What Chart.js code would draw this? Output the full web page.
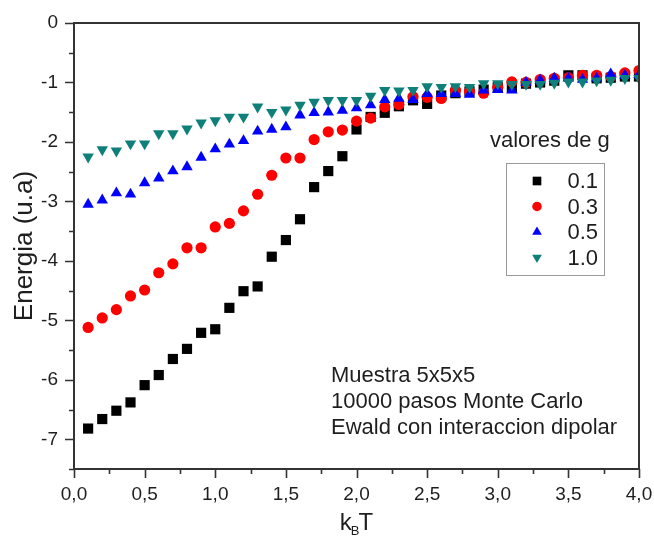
<!DOCTYPE html>
<html>
<head>
<meta charset="utf-8">
<script src="https://cdn.jsdelivr.net/npm/chart.js@4.4.1/dist/chart.umd.min.js"></script>
<style>
html,body{margin:0;padding:0;background:#fff;}
canvas{display:block;}
</style>
</head>
<body>
<canvas id="c" width="654" height="542"></canvas>
<script>
const kT = [0.1,0.2,0.3,0.4,0.5,0.6,0.7,0.8,0.9,1.0,1.1,1.2,1.3,1.4,1.5,1.6,1.7,1.8,1.9,2.0,
            2.1,2.2,2.3,2.4,2.5,2.6,2.7,2.8,2.9,3.0,3.1,3.2,3.3,3.4,3.5,3.6,3.7,3.8,3.9,4.0];
const g01 = [-6.82,-6.66,-6.52,-6.38,-6.09,-5.92,-5.65,-5.48,-5.21,-5.15,-4.79,-4.51,-4.43,-3.93,-3.65,-3.30,-2.76,-2.49,-2.24,-1.79,
             -1.58,-1.51,-1.40,-1.30,-1.36,-1.22,-1.18,-1.15,-1.12,-1.08,-1.08,-1.02,-1.00,-0.97,-0.88,-0.88,-0.93,-0.92,-0.90,-0.90];
const g03 = [-5.12,-4.96,-4.82,-4.59,-4.49,-4.20,-4.05,-3.78,-3.78,-3.43,-3.37,-3.16,-2.88,-2.56,-2.27,-2.27,-1.96,-1.83,-1.80,-1.65,
             -1.60,-1.41,-1.37,-1.24,-1.25,-1.27,-1.13,-1.15,-1.18,-1.08,-0.99,-1.00,-0.95,-0.93,-0.92,-0.88,-0.88,-0.90,-0.84,-0.80];
const g05 = [-3.05,-2.98,-2.86,-2.88,-2.69,-2.61,-2.49,-2.42,-2.26,-2.12,-2.04,-1.98,-1.82,-1.79,-1.75,-1.55,-1.51,-1.50,-1.47,-1.43,
             -1.38,-1.29,-1.27,-1.29,-1.19,-1.19,-1.19,-1.20,-1.13,-1.12,-1.13,-1.00,-0.96,-0.93,-0.93,-0.95,-0.93,-0.86,-0.88,-0.87];
const g10 = [-2.25,-2.13,-2.15,-2.03,-2.03,-1.86,-1.86,-1.78,-1.68,-1.64,-1.58,-1.58,-1.41,-1.50,-1.46,-1.38,-1.33,-1.30,-1.30,-1.30,
             -1.23,-1.13,-1.14,-1.13,-1.07,-1.08,-1.07,-1.08,-1.02,-1.02,-1.03,-1.03,-1.03,-1.01,-0.99,-0.99,-0.97,-0.96,-0.93,-0.93];
const seriesLabels = ['0.1','0.3','0.5','1.0'];
const legendTitle = 'valores de g';
const noteLines = ['Muestra 5x5x5','10000 pasos Monte Carlo','Ewald con interaccion dipolar'];
const yTitle = 'Energia (u.a)';

const FONT = "'Liberation Sans', Arial, sans-serif";
const TXT = '#1e1e1e';
const styles = [
  {color:'#000000', shape:'rect', r:7.2, rot:0},
  {color:'#ff0000', shape:'circle', r:5.6, rot:0},
  {color:'#0000ff', shape:'triangle', r:6.6, rot:0},
  {color:'#0e8079', shape:'triangle', r:6.6, rot:180}
];
const allSeries = [g01, g03, g05, g10];
const datasets = allSeries.map((vals, i) => ({
  label: seriesLabels[i],
  data: kT.map((x, j) => ({x: x, y: vals[j]})),
  showLine: false,
  pointStyle: styles[i].shape,
  pointRotation: styles[i].rot,
  pointRadius: styles[i].r,
  pointHoverRadius: styles[i].r,
  backgroundColor: styles[i].color,
  borderColor: styles[i].color,
  borderWidth: 0,
  order: 4 - i
}));

function drawMarker(ctx, st, x, y) {
  ctx.save();
  ctx.fillStyle = st.color;
  ctx.beginPath();
  if (st.shape === 'rect') {
    const s = Math.SQRT1_2 * st.r;
    ctx.rect(x - s, y - s, 2 * s, 2 * s);
  } else if (st.shape === 'circle') {
    ctx.arc(x, y, st.r, 0, Math.PI * 2);
  } else {
    let rad = st.rot * Math.PI / 180;
    ctx.moveTo(x + Math.sin(rad) * st.r, y - Math.cos(rad) * st.r);
    rad += 2 * Math.PI / 3;
    ctx.lineTo(x + Math.sin(rad) * st.r, y - Math.cos(rad) * st.r);
    rad += 2 * Math.PI / 3;
    ctx.lineTo(x + Math.sin(rad) * st.r, y - Math.cos(rad) * st.r);
    ctx.closePath();
  }
  ctx.fill();
  ctx.restore();
}

const decor = {
  id: 'decor',
  afterDraw(chart) {
    const ctx = chart.ctx, a = chart.chartArea, xs = chart.scales.x, ys = chart.scales.y;
    ctx.save();
    // frame
    ctx.strokeStyle = '#333';
    ctx.lineWidth = 2;
    ctx.strokeRect(a.left, a.top, a.right - a.left, a.bottom - a.top);
    // ticks
    ctx.lineWidth = 1.6;
    ctx.beginPath();
    for (let i = 0; i <= 16; i++) {
      const px = Math.round(xs.getPixelForValue(i * 0.25)) + 0.5;
      const L = (i % 2 === 0) ? 9 : 5;
      ctx.moveTo(px, a.bottom); ctx.lineTo(px, a.bottom + L);
    }
    for (let i = 0; i <= 15; i++) {
      const v = ys.min + i * 0.5;
      const py = Math.round(ys.getPixelForValue(v)) + 0.5;
      const L = (Math.abs(v - Math.round(v)) < 1e-9) ? 9 : 5;
      ctx.moveTo(a.left - L, py); ctx.lineTo(a.left, py);
    }
    ctx.stroke();

    ctx.fillStyle = TXT;
    // y title
    ctx.save();
    ctx.translate(25, (a.top + a.bottom) / 2);
    ctx.rotate(-Math.PI / 2);
    ctx.font = '26px ' + FONT;
    ctx.textAlign = 'center';
    ctx.textBaseline = 'middle';
    ctx.fillText(yTitle, 0, 0);
    ctx.restore();

    // x title k_B T
    const big = '24px ' + FONT, small = '13px ' + FONT;
    ctx.textBaseline = 'alphabetic';
    ctx.textAlign = 'left';
    ctx.font = big;
    const kw = ctx.measureText('k').width;
    const tw = ctx.measureText('T').width;
    ctx.font = small;
    const bw = ctx.measureText('B').width;
    const total = kw + bw + tw - 2;
    const cx = (a.left + a.right) / 2;
    let xx = cx - total / 2;
    const base = 530;
    ctx.font = big;
    ctx.fillText('k', xx, base);
    xx += kw - 1;
    ctx.font = small;
    ctx.fillText('B', xx, base + 5);
    xx += bw - 1;
    ctx.font = big;
    ctx.fillText('T', xx, base);

    // legend title
    ctx.font = '22px ' + FONT;
    ctx.fillText(legendTitle, 490, 147);

    // legend box
    ctx.strokeStyle = '#9a9a9a';
    ctx.lineWidth = 1;
    ctx.strokeRect(506.5, 163.5, 98, 112);
    const rowsY = [181, 206.5, 232, 257.5];
    ctx.font = '22px ' + FONT;
    ctx.textAlign = 'right';
    ctx.textBaseline = 'middle';
    for (let i = 0; i < 4; i++) {
      const st = Object.assign({}, styles[i], {r: styles[i].r * 0.85});
      drawMarker(ctx, st, 537, rowsY[i]);
      ctx.fillStyle = TXT;
      ctx.fillText(seriesLabels[i], 598, rowsY[i] + 1);
    }

    // note
    ctx.textAlign = 'left';
    ctx.textBaseline = 'alphabetic';
    ctx.font = '22px ' + FONT;
    noteLines.forEach((t, i) => ctx.fillText(t, 331, 382 + i * 26));
    ctx.restore();
  }
};

new Chart(document.getElementById('c'), {
  type: 'scatter',
  data: {datasets: datasets},
  options: {
    responsive: false,
    animation: false,
    devicePixelRatio: 1,
    layout: {padding: {left: 0, right: 15, top: 23, bottom: 0}},
    plugins: {legend: {display: false}, tooltip: {enabled: false}},
    scales: {
      x: {
        type: 'linear', min: 0, max: 4,
        grid: {display: false, drawTicks: false},
        border: {display: false},
        ticks: {
          stepSize: 0.5, autoSkip: false, maxRotation: 0, padding: 14,
          color: TXT, font: {size: 19, family: FONT},
          callback: v => v.toFixed(1).replace('.', ',')
        },
        afterFit: s => { s.height = 73; s.paddingLeft = 0; s.paddingRight = 0; }
      },
      y: {
        type: 'linear', min: -7.5, max: 0,
        grid: {display: false, drawTicks: false},
        border: {display: false},
        ticks: {
          stepSize: 1, autoSkip: false, padding: 16,
          color: TXT, font: {size: 19, family: FONT},
          callback: v => (Math.abs(v - Math.round(v)) < 1e-9) ? String(Math.round(v)) : ''
        },
        afterFit: s => { s.width = 74; s.paddingTop = 0; s.paddingBottom = 0; }
      }
    }
  },
  plugins: [decor]
});
</script>
</body>
</html>
